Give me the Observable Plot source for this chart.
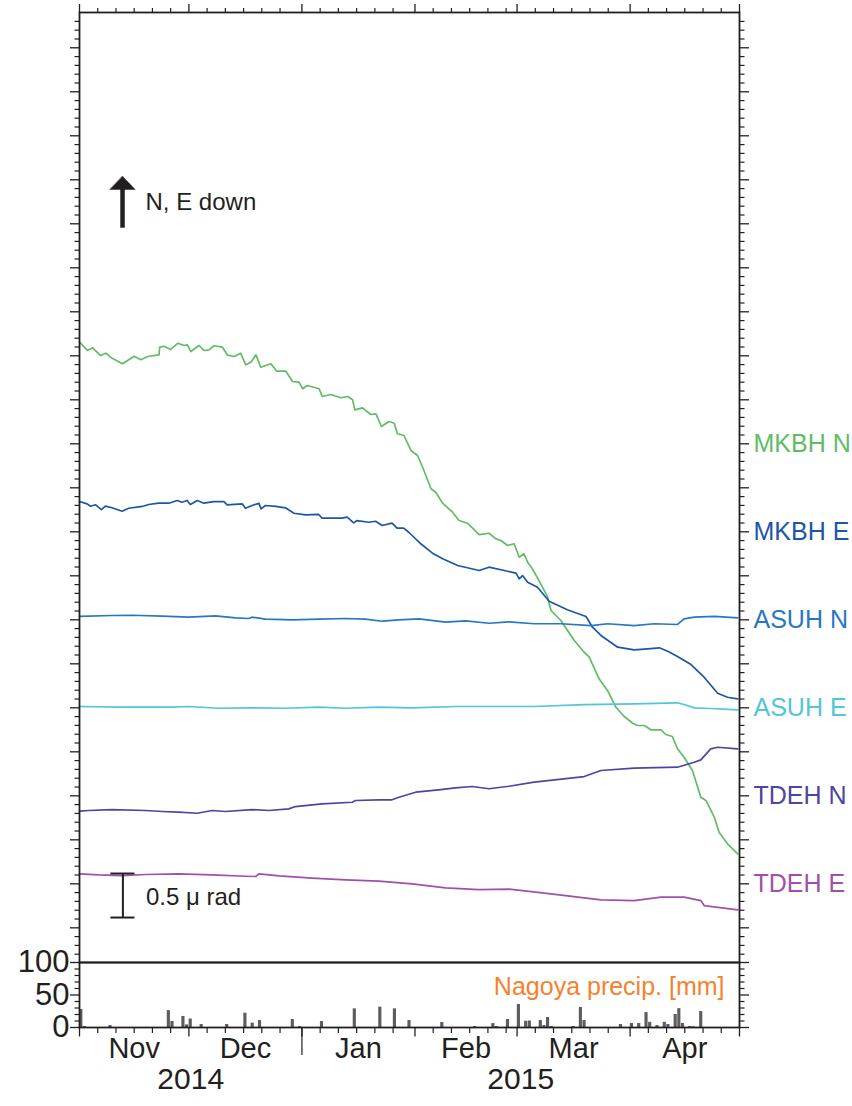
<!DOCTYPE html>
<html><head><meta charset="utf-8">
<script src="https://cdn.jsdelivr.net/npm/d3@7"></script>
<script src="https://cdn.jsdelivr.net/npm/@observablehq/plot@0.6"></script>
<style>
body{margin:0;background:#fff;}
#wrap{position:relative;width:852px;height:1106px;}
#wrap svg{position:absolute;left:0;overflow:visible;background:transparent;}
</style></head><body><div id="wrap"></div>
<script>
// ---- data (day offset from 2014-11-01, tilt in μrad, each series offset for display) ----
const stations = ["MKBH N","MKBH E","ASUH N","ASUH E","TDEH N","TDEH E"];
const stationColors = ["#5fbd65","#1d56a7","#2778c2","#52c5d8","#4d45a1","#a24fab"];
const labelLevels = [5.5,4.5,3.5,2.5,1.5,0.5];

const mkbhN = [[0,6.655],[2.2,6.561],[3.6,6.591],[5.8,6.503],[7.2,6.530],[8.6,6.481],[11.8,6.409],[15.0,6.495],[16.8,6.455],[18.7,6.492],[21.8,6.511],[22.0,6.598],[23.2,6.609],[25.0,6.572],[27.0,6.643],[28.7,6.617],[29.6,6.625],[30.5,6.549],[32.8,6.617],[34.2,6.560],[35.5,6.568],[36.9,6.614],[39.2,6.598],[40.6,6.507],[42.4,6.492],[44.2,6.530],[45.6,6.398],[47.0,6.427],[48.4,6.511],[49.7,6.370],[52.5,6.409],[54.1,6.325],[56.6,6.325],[58.4,6.208],[60.2,6.200],[61.2,6.125],[62.5,6.163],[65.7,6.125],[66.6,6.038],[68.9,6.060],[71.7,6.023],[73.5,6.038],[74.9,6.000],[75.5,5.886],[77.6,5.909],[79.9,5.833],[81.3,5.841],[82.8,5.697],[84.9,5.753],[86.3,5.734],[87.2,5.614],[89.0,5.594],[90.9,5.424],[92.7,5.367],[94.1,5.234],[96.4,4.989],[97.7,4.950],[99.6,4.825],[102.3,4.723],[104.1,4.628],[106.4,4.598],[109.6,4.469],[112.3,4.484],[114.2,4.420],[115.6,4.401],[117.4,4.344],[119.2,4.364],[120.6,4.211],[121.9,4.250],[122.9,4.155],[124.2,4.080],[126.5,3.909],[128.4,3.757],[129.3,3.606],[132.0,3.492],[135.7,3.265],[138.4,3.132],[139.8,3.075],[142.5,2.830],[144.8,2.697],[147.1,2.507],[149.4,2.401],[151.7,2.325],[153.0,2.299],[154.9,2.299],[156.7,2.250],[159.5,2.250],[160.8,2.197],[162.6,2.174],[164.0,2.034],[165.8,1.939],[168.1,1.788],[170.4,1.484],[171.8,1.447],[174.1,1.257],[175.4,1.086],[177.7,0.955],[180.5,0.841]];
const mkbhE = [[0,4.844],[2.1,4.818],[3.0,4.791],[4.4,4.807],[6.0,4.753],[7.1,4.791],[8.9,4.773],[11.7,4.734],[13.5,4.768],[17.2,4.788],[19.0,4.810],[21.7,4.825],[24.5,4.825],[26.8,4.856],[28.1,4.836],[29.5,4.856],[30.4,4.810],[32.3,4.856],[34.1,4.825],[36.8,4.844],[39.6,4.844],[40.5,4.807],[44.6,4.818],[45.5,4.768],[47.3,4.799],[49.2,4.825],[49.8,4.761],[51.0,4.799],[53.8,4.788],[56.5,4.773],[58.8,4.711],[62.0,4.693],[65.6,4.697],[66.5,4.655],[72.0,4.655],[73.4,4.666],[75.2,4.602],[76.1,4.628],[79.3,4.609],[81.2,4.620],[83.0,4.572],[85.7,4.598],[87.1,4.541],[88.9,4.541],[90.3,4.495],[93.6,4.364],[96.8,4.257],[99.6,4.193],[103.7,4.117],[109.6,4.060],[112.3,4.098],[117.4,4.052],[119.7,4.030],[120.6,3.966],[121.5,4.003],[122.9,3.927],[125.6,3.870],[128.8,3.711],[133.8,3.614],[138.9,3.538],[140.7,3.416],[143.0,3.322],[147.6,3.189],[152.1,3.159],[155.8,3.170],[159.0,3.182],[161.3,3.143],[164.0,3.083],[167.7,2.992],[171.3,2.848],[175.0,2.666],[177.7,2.620],[180.5,2.602]];
const asuhN = [[0,3.538],[8.9,3.549],[14.4,3.552],[22.7,3.541],[30.0,3.530],[37.3,3.545],[42.8,3.523],[46.4,3.515],[47.3,3.530],[51.0,3.507],[58.3,3.500],[65.6,3.507],[73.0,3.515],[78.4,3.507],[83.0,3.484],[87.6,3.500],[93.1,3.511],[100.4,3.473],[105.9,3.489],[112.3,3.461],[117.8,3.477],[124.7,3.455],[132.0,3.455],[140.3,3.435],[144.8,3.455],[152.1,3.435],[157.6,3.455],[164.0,3.447],[165.8,3.511],[168.6,3.530],[174.1,3.538],[180.5,3.523]];
const asuhE = [[0,2.515],[11.7,2.507],[24.5,2.507],[30.0,2.515],[38.2,2.495],[47.3,2.500],[56.5,2.495],[65.6,2.507],[73.0,2.495],[82.1,2.507],[91.2,2.500],[103.1,2.515],[117.8,2.515],[124.6,2.515],[138.4,2.537],[152.1,2.545],[164.0,2.557],[165.8,2.537],[168.6,2.500],[173.1,2.492],[180.5,2.477]];
const tdehN = [[0,1.325],[2.5,1.333],[8.9,1.344],[18.1,1.333],[22.7,1.322],[27.2,1.314],[32.3,1.302],[36.4,1.333],[40.0,1.322],[47.3,1.344],[51.9,1.333],[57.4,1.352],[59.2,1.378],[66.5,1.409],[74.8,1.427],[75.7,1.447],[82.1,1.455],[85.7,1.455],[87.6,1.484],[92.2,1.541],[98.5,1.568],[103.1,1.591],[107.7,1.606],[112.3,1.580],[117.8,1.609],[124.7,1.655],[138.4,1.719],[143.0,1.788],[152.1,1.814],[164.0,1.825],[168.6,1.882],[170.4,1.909],[173.1,2.034],[175.0,2.052],[180.5,2.034]];
const tdehE = [[0,0.614],[5.3,0.602],[11.7,0.594],[18.1,0.606],[27.2,0.614],[36.4,0.602],[45.5,0.586],[48.3,0.583],[49.2,0.614],[54.7,0.591],[63.8,0.564],[73.0,0.545],[82.1,0.530],[91.2,0.500],[100.4,0.455],[109.5,0.435],[117.8,0.439],[129.3,0.386],[143.0,0.318],[152.1,0.310],[159.5,0.348],[165.8,0.348],[170.4,0.310],[171.3,0.253],[180.5,0.205]];
const seriesData = [mkbhN, mkbhE, asuhN, asuhE, tdehN, tdehE];

// Nagoya daily precipitation [mm]
const precipDates = ["2014-11-01","2014-11-02","2014-11-09","2014-11-25","2014-11-26","2014-11-29","2014-11-30","2014-12-01","2014-12-04","2014-12-11","2014-12-16","2014-12-18","2014-12-20","2014-12-29","2014-12-31","2015-01-06","2015-01-15","2015-01-22","2015-01-26","2015-01-30","2015-02-08","2015-02-17","2015-02-22","2015-02-23","2015-02-26","2015-03-01","2015-03-03","2015-03-04","2015-03-07","2015-03-08","2015-03-09","2015-03-10","2015-03-16","2015-03-18","2015-03-19","2015-03-29","2015-04-01","2015-04-03","2015-04-05","2015-04-06","2015-04-08","2015-04-10","2015-04-11","2015-04-13","2015-04-14","2015-04-15","2015-04-17","2015-04-18","2015-04-20"];
const precipMM = [27.7,1.5,3,26,9.2,17,4,13,4.6,4.6,22,6.7,10.8,12.3,1.5,9.2,28.7,31.3,28.7,10.8,7.7,1.5,6,1.5,12.3,35.4,9.7,10,10.8,3,15.4,1.5,1.5,30.8,10.8,4.6,6.2,6.2,23,8,3,8,4.6,20,29,6.2,1.5,1,24.6];

const monthNames = ["Nov","Dec","Jan","Feb","Mar","Apr"];
const yearNames = ["2014","2015"];
const precipTicks = [0,50,100];

// annotations: arrow "N, E down" and 0.5 μrad scale bar (day offset, μrad)
const arrowDay = 11.8, arrowLevels = [7.95, 8.39, 8.54], arrowHalfWidthDays = 3.45;
const scaleBarDay = 11.9, scaleBarLevels = [0.117, 0.617], scaleCapDays = 3.3;

// ---- helpers ----
const day0 = Date.UTC(2014,10,1);
const toDate = d => new Date(day0 + d*864e5);
const xDomain = [new Date(Date.UTC(2014,10,1)), new Date(Date.UTC(2015,4,1))];
const monthStarts = d3.utcMonth.range(xDomain[0], new Date(Date.UTC(2015,4,2)));
const minorDays = d3.utcDay.range(xDomain[0], xDomain[1]).filter(d => [6,11,16,21,26].includes(d.getUTCDate()));
const monthMids = monthStarts.slice(0,-1).map((m,i) => ({date: new Date((+m + +monthStarts[i+1])/2), name: monthNames[i]}));
const yearMids = [
  {date: new Date((+xDomain[0] + Date.UTC(2015,0,1))/2), name: yearNames[0]},
  {date: new Date((Date.UTC(2015,0,1) + +xDomain[1])/2), name: yearNames[1]}
];
const rows = [];
seriesData.forEach((s,i) => s.forEach(([d,v]) => rows.push({station: stations[i], date: toDate(d), value: v})));
const labelRows = stations.map((s,i) => ({station: s, y: labelLevels[i]}));
const precipRows = precipDates.map((d,i) => {const t = new Date(d+"T00:00:00Z"); return {d0: t, d1: new Date(+t+864e5), mm: precipMM[i]};});
const headRows = [
  {x: toDate(arrowDay-arrowHalfWidthDays), y: arrowLevels[1]},
  {x: toDate(arrowDay+arrowHalfWidthDays), y: arrowLevels[1]},
  {x: toDate(arrowDay), y: arrowLevels[2]}
];

const FONT = "'Liberation Sans', Arial, Helvetica, sans-serif";
const INK = "#231f20";
const majorY = d3.range(0, 21).map(i => i*0.5);
const minorY = d3.range(-3, 104).map(i => i/10).filter(v => Math.round(v*10) % 5 !== 0);
const blank = () => "";

const main = Plot.plot({
  width: 852, height: 975, marginTop: 12, marginBottom: 13, marginLeft: 79, marginRight: 113,
  x: {type: "utc", domain: xDomain},
  y: {domain: [-0.394, 10.401]},
  color: {domain: stations, range: stationColors},
  style: {background: "transparent", overflow: "visible", fontFamily: FONT, color: INK},
  marks: [
    Plot.axisX({anchor: "top", ticks: monthStarts, tickSize: 9, tickFormat: blank, label: null, strokeWidth: 1.3}),
    Plot.axisX({anchor: "top", ticks: minorDays, tickSize: 5, tickFormat: blank, label: null, strokeWidth: 1.2}),
    Plot.axisY({anchor: "left", ticks: majorY, tickSize: 9, tickFormat: blank, label: null, strokeWidth: 1.3}),
    Plot.axisY({anchor: "left", ticks: minorY, tickSize: 4.5, tickFormat: blank, label: null, strokeWidth: 1.2}),
    Plot.axisY({anchor: "right", ticks: majorY, tickSize: 9, tickFormat: blank, label: null, strokeWidth: 1.3}),
    Plot.axisY({anchor: "right", ticks: minorY, tickSize: 4.5, tickFormat: blank, label: null, strokeWidth: 1.2}),
    Plot.line(rows, {x: "date", y: "value", z: "station", stroke: "station", strokeWidth: 1.7}),
    Plot.text(labelRows, {x: () => xDomain[1], y: "y", text: "station", fill: "station", dx: 14, textAnchor: "start", fontSize: 25}),
    // arrow
    Plot.ruleX([0], {x: () => toDate(arrowDay), y1: arrowLevels[0], y2: arrowLevels[1], stroke: INK, strokeWidth: 4.5}),
    Plot.line(headRows, {x: "x", y: "y", fill: INK, stroke: INK, strokeWidth: 0.5, curve: "linear-closed"}),
    Plot.text(["N, E down"], {x: () => toDate(arrowDay), y: () => 8.245, dx: 23, textAnchor: "start", fontSize: 24, fill: INK}),
    // scale bar
    Plot.ruleX([0], {x: () => toDate(scaleBarDay), y1: scaleBarLevels[0], y2: scaleBarLevels[1], stroke: INK, strokeWidth: 2}),
    Plot.ruleY(scaleBarLevels, {y: d => d, x1: () => toDate(scaleBarDay-scaleCapDays), x2: () => toDate(scaleBarDay+scaleCapDays), stroke: INK, strokeWidth: 2}),
    Plot.text(["0.5 μ rad"], {x: () => toDate(scaleBarDay), y: () => (scaleBarLevels[0]+scaleBarLevels[1])/2, dx: 23, dy: 2, textAnchor: "start", fontSize: 24, fill: INK}),
    Plot.frame({stroke: INK, strokeWidth: 1.8})
  ]
});
main.style.top = "0px";

const prec = Plot.plot({
  width: 852, height: 166, marginTop: 22, marginBottom: 79, marginLeft: 79, marginRight: 113,
  x: {type: "utc", domain: xDomain},
  y: {domain: [0, 100]},
  style: {background: "transparent", overflow: "visible", fontFamily: FONT, color: INK},
  marks: [
    Plot.rectY(precipRows, {x1: "d0", x2: "d1", y: "mm", fill: "#5d5d61", insetLeft: 0.25, insetRight: 0.25}),
    Plot.axisY({anchor: "left", ticks: precipTicks, tickSize: 9, tickPadding: 1, fontSize: 31, label: null, strokeWidth: 1.3}),
    Plot.axisY({anchor: "left", ticks: [10,20,30,40,60,70,80,90], tickSize: 4.5, tickFormat: blank, label: null, strokeWidth: 1.2}),
    Plot.axisY({anchor: "right", ticks: precipTicks, tickSize: 9, tickFormat: blank, label: null, strokeWidth: 1.3}),
    Plot.axisY({anchor: "right", ticks: [10,20,30,40,60,70,80,90], tickSize: 4.5, tickFormat: blank, label: null, strokeWidth: 1.2}),
    Plot.axisX({anchor: "bottom", ticks: monthStarts, tickSize: 9.5, tickFormat: blank, label: null, strokeWidth: 1.3}),
    Plot.axisX({anchor: "bottom", ticks: minorDays, tickSize: 6, tickFormat: blank, label: null, strokeWidth: 1.2}),
    Plot.axisX({anchor: "bottom", ticks: [new Date(Date.UTC(2015,0,1))], tickSize: 28, tickFormat: blank, label: null, strokeWidth: 1.2}),
    Plot.text(monthMids, {x: "date", text: "name", frameAnchor: "bottom", dy: 30.5, fontSize: 29, fill: INK}),
    Plot.text(yearMids, {x: "date", text: "name", frameAnchor: "bottom", dy: 61, fontSize: 30, fill: INK}),
    Plot.text(["Nagoya precip. [mm]"], {frameAnchor: "top-right", dx: -15, dy: 14.7, textAnchor: "end", fontSize: 25, fill: "#f5812f"}),
    Plot.frame({stroke: INK, strokeWidth: 1.8})
  ]
});
prec.style.top = "940px";

const wrap = document.getElementById("wrap");
wrap.append(main, prec);
</script>
</body></html>
